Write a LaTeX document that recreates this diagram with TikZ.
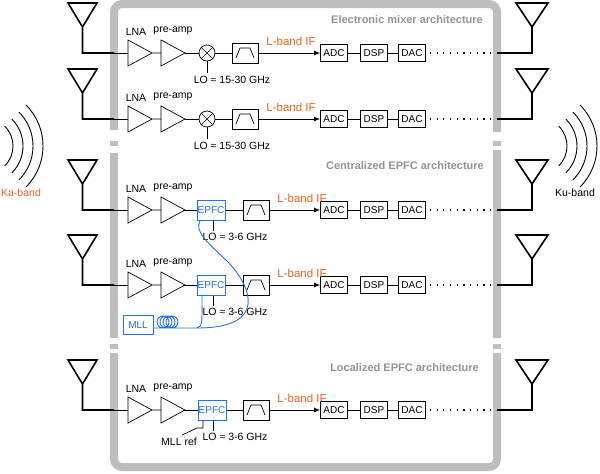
\documentclass[tikz,border=0pt]{standalone}
\usepackage{fontspec}
\setmainfont{Liberation Sans}
\usetikzlibrary{arrows.meta}
\definecolor{orng}{RGB}{232,100,30}
\definecolor{blu}{RGB}{30,115,235}
\definecolor{frm}{RGB}{190,190,190}
\begin{document}
\begin{tikzpicture}[x=1pt,y=-1pt,
  thk/.style={line width=1.6pt,black},
  thn/.style={line width=0.7pt,black},
  blk/.style={draw,line width=0.7pt,minimum width=27pt,minimum height=17pt,inner sep=0pt,font=\fontsize{10}{10}\selectfont},
  epfc/.style={draw=blu,text=blu,line width=1pt,minimum width=28pt,minimum height=20pt,inner sep=0pt,font=\fontsize{10}{10}\selectfont,fill=white},
  lbl/.style={inner sep=0pt,font=\fontsize{10.5}{11}\selectfont},
  ifl/.style={inner sep=0pt,text=orng,font=\fontsize{11.5}{12}\selectfont},
  ttl/.style={inner sep=0pt,anchor=east,text=gray!85,font=\bfseries\fontsize{11}{12}\selectfont},
  fr/.style={line width=8pt,frm}]
\useasboundingbox (0,0) rectangle (600,474);
% frame
\draw[fr] (114,130) -- (114,12) to[out=90,in=180] (122,4) -- (489,4) to[out=0,in=90] (497,12) -- (497,132);
\draw[fr] (114,153) -- (114,338);
\draw[fr] (497,150) -- (497,338);
\draw[fr] (114,353) -- (114,459) to[out=-90,in=180] (122,467) -- (489,467) to[out=0,in=-90] (497,459) -- (497,353);
\draw[frm,line width=5pt] (110,143) -- (118,143) (493,143) -- (501,143) (110,346) -- (118,346) (493,346) -- (501,346);
% titles
\node[ttl] (t1) at (483,20) {Electronic mixer architecture};
\node[ttl] (t2) at (484,166) {Centralized EPFC architecture};
\node[ttl] (t3) at (479,368) {Localized EPFC architecture};
% waves
\foreach \r in {28,38,48,58} \draw[thn,line width=0.9pt] (-15,146) ++(45:\r) arc[start angle=45,end angle=-45,radius=\r];
\foreach \r in {28,38,48,58} \draw[thn,line width=0.9pt] (539,146) ++(45:\r) arc[start angle=45,end angle=-45,radius=\r];
\node[inner sep=0pt,text=orng,font=\fontsize{10.5}{11}\selectfont] (ka) at (21,193) {Ka-band};
\node[inner sep=0pt,font=\fontsize{10.5}{11}\selectfont] (ku) at (575,193) {Ku-band};
% rows
\foreach \y/\f/\id in {53/232/1,119/232/2,210/243/3,285/243/4,410/243/5}{
  \draw[thk,line join=miter] (68,\y-50) -- (97,\y-50) -- (82.5,\y-26) -- cycle (82.5,\y-26) -- (82.5,\y) -- (114,\y);
  \draw[thk,line join=miter] (516,\y-50) -- (548,\y-50) -- (532,\y-26) -- cycle (532,\y-26) -- (532,\y) -- (497,\y);
  \draw[thn] (114,\y) -- (128,\y);
  \draw[thn] (128,\y-13) -- (152,\y) -- (128,\y+13) -- cycle (152,\y) -- (161,\y);
  \draw[thn] (161,\y-13) -- (185,\y) -- (161,\y+13) -- cycle;
  \node[lbl] (lna\id) at (136,\y-21) {LNA};
  \node[lbl] (pre\id) at (173,\y-22) {pre-amp};
  \node[blk,minimum width=26pt,minimum height=20pt] (f\id) at (\f+13,\y) {};
  \draw[thn] (\f+4,\y+5) -- (\f+8,\y-5) -- (\f+18,\y-5) -- (\f+22,\y+5);
  \node[blk] (adc\id) at (334,\y) {ADC};
  \node[blk] (dsp\id) at (374,\y) {DSP};
  \node[blk] (dac\id) at (412,\y) {DAC};
  \draw[thn,-{Latex[length=6pt,width=5pt]},line width=1pt] (f\id.east) -- (adc\id.west);
  \draw[thn] (adc\id) -- (dsp\id) (dsp\id) -- (dac\id);
  \draw[line width=1.2pt,dash pattern=on 1.2pt off 5.5pt] (dac\id.east) ++(4,0) -- (497,\y);
  \node[ifl] (if\id) at (\f+59,\y-12) {L-band IF};
}
% mixers
\foreach \y/\id in {53/1,119/2}{
  \node[draw,circle,thn,minimum size=16pt,inner sep=0pt] (m\id) at (207,\y) {};
  \draw[thn] (m\id.45) -- (m\id.225) (m\id.135) -- (m\id.315);
  \draw[thn] (185,\y) -- (m\id.west) (m\id.east) -- (f\id.west);
  \coordinate (lo\id) at (207,\y+20);
  \draw[thn] (m\id.south) -- (lo\id);
  \node[lbl,anchor=north] at (232,\y+23) {LO ≈ 15-30 GHz};
}
% EPFC boxes
\node[epfc] (e3) at (211,210) {EPFC};
\node[epfc] (e4) at (211,285) {EPFC};
\node[epfc] (e5) at (212,410) {EPFC};
\foreach \y/\id in {210/3,285/4,410/5}{
  \draw[thn] (183,\y) -- (e\id.west) (e\id.east) -- (f\id.west);
  \coordinate (lo\id) at (213,\y+21);
  \draw[thn] (e\id.south -| lo\id) -- (lo\id);
  \node[lbl,anchor=north] (lol\id) at (235,\y+23) {LO ≈ 3-6 GHz};
}
% MLL
\node[epfc,minimum width=30pt,minimum height=19pt] (mll) at (138,325) {MLL};
\coordinate (j) at (197,328);
\draw[blu,line width=0.9pt] (mll.east |- j) -- (163,328)
  \foreach \i in {0,1,2,3} { arc[start angle=90,end angle=450,radius=6] -- ++(3,0) } -- (j);
\draw[blu,line width=0.9pt] (j) .. controls (203,328) and (202,318) .. (e4.south -| 202,0);
\draw[blu,line width=0.9pt] (j) .. controls (270,328) and (250,285) .. (228,262) .. controls (205,240) and (195,232) .. (e3.south -| 200,0);
% MLL ref
\coordinate (mr) at (182,435);
\draw[thn] (e5.south -| 203,0) -- (203,428) -- (197,428) -- (mr);
\node[lbl] (mrl) at (179,442) {MLL ref};
\end{tikzpicture}
\end{document}
